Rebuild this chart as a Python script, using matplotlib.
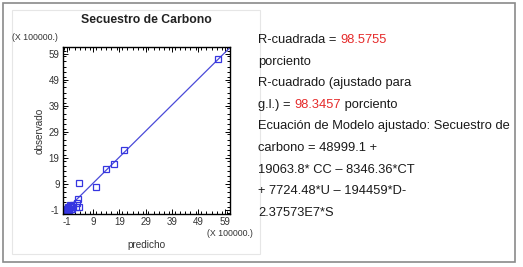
import matplotlib
matplotlib.use("Agg")
import matplotlib.pyplot as plt
from matplotlib.patches import Rectangle
from matplotlib.ticker import MultipleLocator, FixedLocator
import numpy as np

plt.rcParams['font.family'] = ['Liberation Sans', 'DejaVu Sans']
plt.rcParams['axes.unicode_minus'] = False

# Data (units of 100000)
predicho = [56.3, 20.7, 17.0, 13.8, 10.0, 3.8, 3.4, 3.8, 2.8, 2.4,
            -1.0, -0.8, -0.5, -0.3, 0.0, 0.3, 0.6, 0.8, 1.2, 1.5, -0.6, 0.1, 1.0]
observado = [56.8, 22.1, 16.7, 14.6, 7.7, 9.2, 3.1, 0.3, 1.8, 0.3,
             -1.0, -0.6, -0.3, -0.8, -0.5, 0.0, -0.7, 0.5, 0.2, 1.0, 0.3, 0.8, -0.4]
fit_intercept = 0.3
fit_slope = 1.0
ticks = [-1, 9, 19, 29, 39, 49, 59]

title = "Secuestro de Carbono"
stats_lines = [
    [("R-cuadrada = ", "k"), ("98.5755", "r")],
    [("porciento", "k")],
    [("R-cuadrado (ajustado para", "k")],
    [("g.l.) = ", "k"), ("98.3457", "r"), (" porciento", "k")],
    [("Ecuación de Modelo ajustado: Secuestro de", "k")],
    [("carbono = 48999.1 +", "k")],
    [("19063.8* CC – 8346.36*CT", "k")],
    [("+ 7724.48*U – 194459*D-", "k")],
    [("2.37573E7*S", "k")],
]

W, H = 523, 267
fig = plt.figure(figsize=(W / 100, H / 100), dpi=100)

# outer border and inner panel
fig.patches.append(Rectangle((3 / W, 1 - 262 / H), 512 / W, 259 / H, transform=fig.transFigure,
                             fill=False, edgecolor="#8a8a8a", linewidth=1.2))
fig.patches.append(Rectangle((12 / W, 1 - 254 / H), 248 / W, 244 / H, transform=fig.transFigure,
                             fill=False, edgecolor="#e6e6e6", linewidth=0.8))

ax = fig.add_axes([63 / W, 1 - 214 / H, 167 / W, 167 / H])
xlim = (-2.4, 61.0)
ylim = (-2.5, 61.5)
ax.set_xlim(xlim)
ax.set_ylim(ylim)

xs = np.array(xlim)
ax.plot(xs, fit_intercept + fit_slope * xs, color="#4a4ad8", linewidth=0.9)
ax.plot(predicho, observado, linestyle="none", marker="s", markersize=3.8,
        markerfacecolor="none", markeredgecolor="#3535e0", markeredgewidth=0.9)

ax.xaxis.set_major_locator(FixedLocator(ticks))
ax.yaxis.set_major_locator(FixedLocator(ticks))
ax.xaxis.set_minor_locator(MultipleLocator(2))
ax.yaxis.set_minor_locator(MultipleLocator(2))
ax.tick_params(which="both", direction="in", top=True, right=True, colors="black",
               labelcolor="#333333", labelsize=7, width=0.7)
ax.tick_params(which="major", length=3.5, pad=2.5)
ax.tick_params(which="minor", length=2)
for s in ax.spines.values():
    s.set_linewidth(1.0)

ax.set_xlabel("predicho", fontsize=7.2, color="#333333", labelpad=9)
ax.set_ylabel("observado", fontsize=7.2, color="#333333", labelpad=3)

fig.text(146 / W, 1 - 20 / H, title, ha="center", va="center", fontsize=8.8,
         fontweight="bold", color="#222222")
fig.text(12 / W, 1 - 37 / H, "(X 100000.)", ha="left", va="center", fontsize=6.3,
         color="#333333")
fig.text(207 / W, 1 - 234 / H, "(X 100000.)", ha="left", va="center", fontsize=6.3,
         color="#333333")

# right-side statistics text, fit to reference width of the longest line
r = fig.canvas.get_renderer()
base_fs = 10.0
probe = fig.text(0, 0, stats_lines[4][0][0], fontsize=base_fs)
wpx = probe.get_window_extent(renderer=r).width
probe.remove()
fs = base_fs * 252.0 / wpx

y0 = 40
dy = 21.6
for i, parts in enumerate(stats_lines):
    y = 1 - (y0 + i * dy) / H
    x = 258 / W
    for txt, c in parts:
        col = "#e52a2a" if c == "r" else "#1a1a1a"
        t = fig.text(x, y, txt, ha="left", va="center", fontsize=fs, color=col)
        bb = t.get_window_extent(renderer=r)
        x = x + bb.width / W
fig.savefig("out.png", dpi=100)
